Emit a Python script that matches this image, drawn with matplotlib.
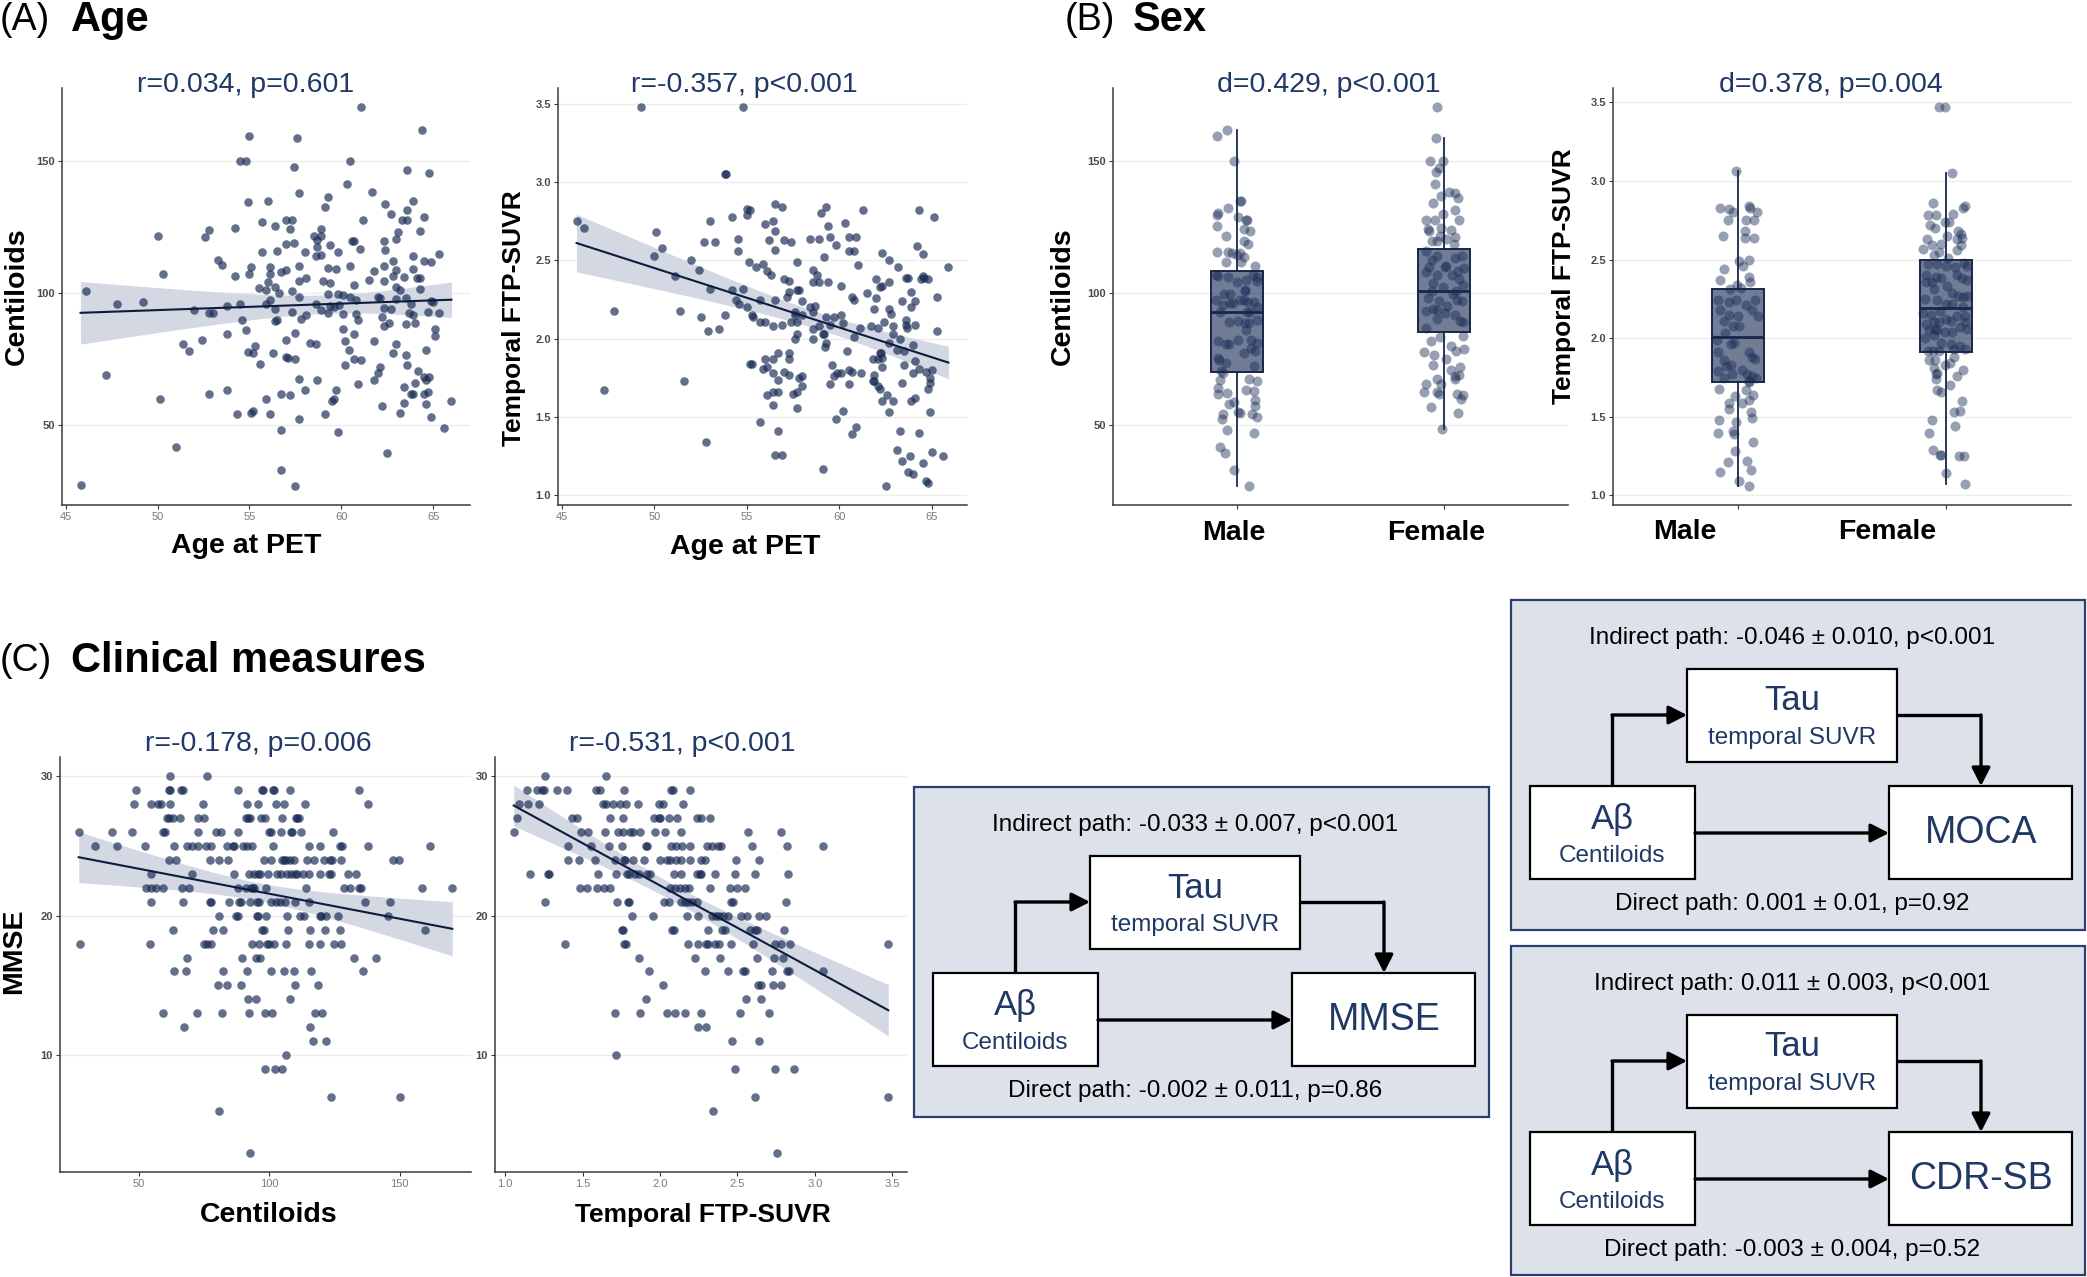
import numpy as np
import matplotlib.pyplot as plt
import matplotlib.ticker as tck
from matplotlib.colors import to_rgba
from matplotlib.patches import Rectangle

# ---------------- values ----------------
# (A) age at PET vs centiloids
centiloid_vs_age = [
    (61.1, 170.6), (64.4, 161.8), (55.0, 159.7), (57.6, 159.0), (54.5, 150.0), (54.8, 150.0), (60.5, 150.0),
    (57.4, 147.8), (63.6, 146.7), (64.8, 145.7), (60.3, 141.3), (57.7, 138.0), (61.7, 138.2), (54.9, 134.7),
    (56.0, 135.1), (59.3, 136.4), (63.9, 134.9), (62.4, 133.6), (59.1, 132.5), (63.6, 131.4), (62.7, 130.1),
    (64.5, 129.0), (55.7, 126.8), (57.0, 127.7), (57.3, 127.7), (61.2, 127.9), (63.3, 127.8), (63.6, 127.8),
    (52.8, 123.9), (54.2, 124.7), (56.4, 125.3), (57.2, 124.3), (58.9, 124.4), (63.1, 123.2), (64.3, 123.6),
    (50.0, 121.7), (52.6, 121.4), (58.5, 121.6), (58.9, 121.6), (58.7, 120.1), (60.6, 119.6), (60.7, 119.6),
    (62.3, 119.9), (63.0, 120.4), (57.4, 119.0), (57.0, 118.6), (58.7, 117.4), (59.4, 118.2), (61.0, 116.9),
    (62.4, 116.2), (55.7, 115.6), (56.5, 115.8), (58.0, 115.5), (59.8, 115.6), (65.3, 114.9), (58.6, 114.0),
    (58.9, 114.3), (63.9, 113.9), (64.5, 112.0), (64.9, 111.8), (62.8, 112.1), (53.3, 112.6), (53.5, 110.6),
    (55.1, 109.9), (56.1, 110.0), (57.7, 110.1), (59.3, 109.4), (59.7, 109.0), (60.5, 110.1), (62.3, 110.3),
    (63.9, 109.3), (61.8, 108.5), (63.0, 108.6), (50.3, 107.1), (54.2, 106.5), (55.0, 107.1), (56.1, 107.2),
    (56.7, 107.9), (57.0, 108.6), (62.8, 106.5), (63.4, 106.1), (64.1, 105.8), (64.3, 105.8), (58.1, 105.7),
    (59.0, 104.7), (61.5, 104.9), (62.3, 104.7), (57.7, 104.6), (56.0, 104.2), (59.4, 103.8), (60.7, 103.1),
    (55.5, 101.8), (55.9, 101.0), (56.4, 102.4), (63.0, 102.2), (63.2, 101.0), (64.3, 101.5), (46.1, 100.8),
    (57.3, 100.7), (59.3, 99.6), (59.8, 99.6), (60.1, 99.2), (62.0, 98.5), (62.1, 98.3), (63.5, 98.3),
    (60.5, 98.6), (56.6, 99.9), (56.1, 97.5), (57.7, 98.6), (64.9, 97.0), (65.0, 96.5), (60.8, 97.4),
    (63.0, 97.6), (63.8, 96.0), (47.8, 96.0), (49.2, 96.5), (54.5, 96.0), (53.8, 95.0), (55.9, 96.0),
    (58.6, 96.0), (59.4, 95.0), (59.6, 94.8), (59.9, 95.3), (56.4, 94.0), (62.3, 94.2), (62.7, 93.9),
    (52.0, 93.5), (52.8, 92.4), (53.0, 92.4), (58.9, 93.6), (57.3, 93.0), (59.3, 92.6), (60.1, 92.0),
    (60.8, 92.2), (63.7, 92.5), (63.9, 91.7), (64.7, 93.0), (65.3, 92.5), (62.2, 91.0), (57.8, 90.1),
    (58.1, 91.8), (54.6, 89.7), (56.4, 89.3), (56.5, 89.6), (60.9, 89.6), (64.0, 88.6), (63.5, 88.1),
    (62.6, 88.5), (62.3, 87.6), (65.1, 86.5), (54.8, 86.0), (53.8, 84.4), (57.5, 84.7), (60.1, 86.4),
    (60.7, 84.3), (65.1, 83.8), (52.4, 82.1), (51.4, 80.7), (51.7, 78.2), (57.0, 82.2), (58.3, 80.9),
    (58.6, 80.8), (60.2, 81.8), (61.8, 81.7), (55.3, 80.0), (55.2, 77.4), (54.9, 77.6), (63.0, 80.6),
    (60.4, 78.3), (64.6, 78.5), (56.3, 77.2), (62.8, 77.4), (63.5, 76.5), (55.6, 73.2), (57.5, 74.9),
    (57.0, 75.7), (57.1, 75.5), (60.7, 75.1), (61.1, 74.7), (60.2, 72.6), (63.6, 72.6), (62.1, 71.9),
    (62.0, 69.7), (64.2, 70.6), (47.2, 68.9), (64.5, 68.0), (64.8, 68.0), (64.6, 67.2), (57.7, 67.5),
    (58.7, 67.1), (61.8, 66.9), (64.0, 66.0), (60.9, 65.6), (58.0, 63.3), (53.8, 63.2), (59.7, 63.1),
    (63.4, 64.2), (64.7, 62.5), (52.8, 61.7), (56.7, 61.7), (57.2, 61.3), (63.8, 61.7), (63.9, 61.6),
    (64.5, 61.7), (50.1, 60.0), (55.9, 59.7), (59.5, 59.0), (59.6, 59.7), (66.0, 59.0), (63.4, 58.3),
    (64.6, 57.8), (62.2, 57.0), (54.3, 54.3), (55.1, 54.6), (55.2, 55.2), (56.1, 54.3), (59.1, 54.3),
    (63.2, 54.6), (64.9, 53.1), (57.7, 52.4), (65.6, 48.8), (56.7, 48.2), (59.8, 47.2), (51.0, 41.7),
    (62.5, 39.4), (56.7, 32.9), (45.8, 27.2), (57.5, 26.8),
]

# (A) age at PET vs temporal FTP-SUVR
tau_vs_age = [
    (49.3, 3.48), (54.8, 3.48), (53.8, 3.05), (53.85, 3.05), (56.5, 2.86), (56.9, 2.84), (59.3, 2.84),
    (61.3, 2.82), (64.3, 2.82), (55.0, 2.83), (55.2, 2.82), (55.0, 2.79), (59.0, 2.80), (54.2, 2.78),
    (65.1, 2.78), (45.8, 2.75), (53.0, 2.75), (56.4, 2.75), (56.0, 2.73), (60.3, 2.74), (59.4, 2.72),
    (46.2, 2.71), (56.5, 2.69), (50.1, 2.68), (60.5, 2.65), (60.9, 2.65), (59.5, 2.65), (57.0, 2.63),
    (57.4, 2.62), (58.4, 2.64), (58.9, 2.64), (54.5, 2.64), (52.7, 2.62), (53.3, 2.62), (56.2, 2.63),
    (59.8, 2.60), (64.2, 2.59), (50.4, 2.58), (56.5, 2.57), (54.5, 2.56), (60.5, 2.56), (60.8, 2.56),
    (62.3, 2.55), (64.5, 2.54), (50.0, 2.53), (59.2, 2.52), (52.0, 2.50), (55.1, 2.49), (57.7, 2.49),
    (62.7, 2.50), (55.9, 2.48), (61.0, 2.47), (55.5, 2.46), (63.2, 2.46), (65.9, 2.46), (52.4, 2.44),
    (58.6, 2.44), (56.1, 2.43), (56.3, 2.41), (58.8, 2.41), (64.5, 2.40), (64.6, 2.39), (64.8, 2.38),
    (64.4, 2.38), (51.1, 2.40), (57.0, 2.38), (57.3, 2.37), (62.0, 2.38), (63.6, 2.39), (63.7, 2.39),
    (58.6, 2.36), (58.9, 2.36), (59.4, 2.36), (60.1, 2.34), (62.2, 2.33), (62.3, 2.34), (62.7, 2.36),
    (53.0, 2.32), (54.8, 2.32), (57.7, 2.31), (57.8, 2.31), (57.3, 2.30), (54.2, 2.31), (63.9, 2.30),
    (61.5, 2.29), (65.3, 2.27), (60.7, 2.27), (60.8, 2.25), (63.4, 2.24), (64.1, 2.24), (62.0, 2.26),
    (54.4, 2.25), (56.5, 2.25), (55.7, 2.25), (57.2, 2.27), (58.0, 2.24), (54.6, 2.22), (55.0, 2.20),
    (63.9, 2.20), (58.7, 2.21), (58.4, 2.20), (61.9, 2.19), (62.7, 2.19), (47.8, 2.18), (51.4, 2.18),
    (57.6, 2.17), (57.6, 2.15), (58.6, 2.17), (62.8, 2.16), (53.8, 2.15), (55.3, 2.15), (55.35, 2.14),
    (58.0, 2.15), (60.1, 2.15), (52.5, 2.14), (59.3, 2.14), (59.7, 2.14), (55.7, 2.11), (56.0, 2.11),
    (63.6, 2.12), (63.6, 2.09), (63.65, 2.07), (57.4, 2.11), (57.7, 2.11), (56.9, 2.09), (56.4, 2.08),
    (60.2, 2.10), (59.5, 2.09), (62.4, 2.11), (64.1, 2.09), (58.9, 2.08), (61.1, 2.07), (61.7, 2.08),
    (62.1, 2.07), (62.9, 2.08), (52.9, 2.05), (53.5, 2.06), (58.6, 2.06), (65.3, 2.05), (59.1, 2.03),
    (59.2, 2.03), (62.9, 2.03), (57.7, 2.03), (57.6, 2.00), (58.6, 2.00), (60.8, 2.01), (63.3, 2.00),
    (62.7, 1.97), (59.3, 1.97), (59.25, 1.95), (64.0, 1.96), (63.1, 1.93), (63.5, 1.92), (62.2, 1.91),
    (62.25, 1.91), (60.4, 1.92), (56.7, 1.91), (57.3, 1.91), (57.3, 1.87), (61.8, 1.87), (62.1, 1.87),
    (62.3, 1.88), (56.4, 1.87), (56.0, 1.87), (64.1, 1.86), (55.2, 1.84), (55.3, 1.84), (59.6, 1.83),
    (63.5, 1.83), (55.9, 1.81), (56.1, 1.82), (62.3, 1.82), (64.3, 1.81), (64.7, 1.79), (65.0, 1.80),
    (61.2, 1.78), (60.7, 1.79), (60.5, 1.80), (59.9, 1.78), (60.1, 1.78), (57.0, 1.79), (56.4, 1.78),
    (64.0, 1.78), (57.3, 1.77), (58.0, 1.76), (61.9, 1.77), (64.9, 1.75), (57.8, 1.75), (59.7, 1.76),
    (56.7, 1.74), (61.8, 1.73), (61.9, 1.73), (63.4, 1.72), (64.9, 1.72), (59.5, 1.71), (60.5, 1.71),
    (51.6, 1.73), (58.0, 1.70), (62.1, 1.70), (64.8, 1.68), (47.3, 1.67), (56.4, 1.66), (56.7, 1.66),
    (57.7, 1.66), (57.5, 1.65), (62.2, 1.68), (62.6, 1.64), (56.1, 1.64), (64.1, 1.62), (63.9, 1.60),
    (62.3, 1.60), (62.9, 1.60), (56.4, 1.58), (57.7, 1.56), (60.2, 1.54), (62.7, 1.53), (64.9, 1.53),
    (59.8, 1.49), (55.7, 1.47), (60.9, 1.44), (63.3, 1.41), (64.3, 1.40), (56.7, 1.41), (60.7, 1.39),
    (52.8, 1.34), (63.1, 1.29), (65.0, 1.28), (56.5, 1.26), (56.9, 1.26), (63.8, 1.25), (65.6, 1.25),
    (63.4, 1.22), (64.5, 1.21), (59.1, 1.17), (63.7, 1.15), (64.0, 1.14), (64.7, 1.09), (64.8, 1.08),
    (62.5, 1.06),
]

# (B) sex: (horizontal jitter, value) pairs
cl_male = [
    (-0.095, 159.7), (-0.047, 161.8), (-0.015, 150.0), (0.016, 135.0), (0.02, 135.0), (-0.042, 132.4),
    (-0.092, 130.6), (-0.095, 129.6), (0.006, 129.0), (0.045, 127.9), (0.049, 127.9), (-0.098, 125.4),
    (0.034, 124.3), (0.061, 123.8), (-0.056, 121.8), (0.035, 120.0), (0.053, 118.5), (-0.098, 115.8),
    (-0.044, 115.8), (-0.024, 115.2), (0.016, 115.2), (0.0, 114.4), (0.031, 113.6), (-0.056, 111.9),
    (0.021, 111.7), (0.085, 110.3), (-0.1, 106.9), (-0.092, 106.5), (-0.044, 106.3), (0.077, 106.8),
    (0.098, 106.0), (0.097, 104.7), (0.044, 105.1), (0.0, 104.2), (0.037, 101.0), (0.04, 101.4),
    (-0.063, 99.9), (-0.032, 99.9), (-0.1, 97.4), (-0.021, 96.4), (-0.032, 96.4), (0.016, 97.4),
    (0.032, 97.4), (-0.068, 95.7), (0.053, 96.8), (0.081, 96.8), (0.095, 94.7), (-0.081, 92.9),
    (0.047, 92.9), (0.063, 92.9), (0.098, 89.9), (0.002, 89.6), (-0.04, 89.2), (0.040, 88.6),
    (0.056, 88.6), (0.042, 86.2), (0.005, 82.2), (-0.092, 82.0), (-0.052, 80.7), (-0.040, 80.7),
    (0.069, 82.2), (0.094, 81.1), (0.065, 79.2), (0.089, 78.1), (-0.094, 75.4), (-0.089, 74.6),
    (0.035, 77.4), (-0.052, 73.5), (0.082, 72.6), (-0.068, 70.0), (-0.076, 70.4), (-0.081, 67.2),
    (0.056, 67.5), (0.094, 66.8), (-0.094, 64.2), (-0.047, 62.4), (-0.094, 61.8), (0.044, 63.3),
    (0.084, 63.1), (-0.015, 59.0), (-0.037, 58.1), (0.089, 59.7), (0.085, 57.5), (0.005, 55.1),
    (0.013, 54.7), (-0.068, 54.3), (0.071, 54.3), (0.094, 53.2), (-0.074, 52.4), (-0.047, 48.2),
    (0.081, 47.2), (-0.081, 41.8), (-0.058, 39.6), (-0.015, 32.9), (0.058, 27.0),
]
cl_female = [
    (-0.031, 170.6), (-0.037, 159.0), (-0.066, 150.1), (-0.003, 150.1), (-0.024, 147.6), (-0.037, 145.8),
    (-0.044, 141.3), (0.023, 138.2), (0.052, 137.9), (0.069, 136.3), (-0.013, 136.7), (-0.052, 134.4),
    (0.056, 131.4), (-0.003, 130.0), (-0.089, 127.6), (-0.045, 127.8), (0.074, 127.8), (-0.076, 124.4),
    (-0.073, 123.7), (-0.013, 124.9), (0.034, 124.0), (-0.021, 121.8), (0.056, 121.4), (-0.060, 120.0),
    (-0.032, 119.7), (0.010, 120.4), (-0.085, 116.2), (0.048, 118.8), (-0.032, 114.2), (0.089, 114.2),
    (0.056, 113.2), (-0.056, 112.8), (-0.073, 110.0), (0.011, 110.3), (0.005, 110.0), (0.097, 109.6),
    (0.068, 108.6), (-0.087, 107.9), (-0.032, 106.9), (0.040, 106.8), (-0.053, 104.0), (0.073, 105.4),
    (0.090, 103.2), (-0.006, 102.4), (-0.056, 101.0), (0.045, 99.9), (0.058, 101.0), (-0.077, 98.2),
    (-0.024, 97.1), (0.063, 97.4), (0.089, 97.0), (0.016, 95.1), (-0.055, 94.2), (-0.031, 93.8),
    (-0.089, 93.3), (0.005, 92.5), (0.052, 91.9), (-0.032, 90.3), (0.077, 89.6), (0.090, 89.0),
    (-0.089, 86.7), (-0.018, 83.6), (0.090, 83.9), (-0.063, 82.0), (0.032, 80.0), (-0.097, 77.9),
    (-0.047, 76.7), (0.060, 78.3), (0.097, 78.9), (0.011, 75.3), (-0.053, 72.8), (0.077, 72.1),
    (0.034, 70.8), (0.073, 69.0), (0.053, 68.6), (0.056, 67.6), (-0.034, 67.6), (-0.089, 65.8),
    (-0.013, 65.6), (-0.097, 62.6), (-0.026, 61.8), (-0.031, 62.6), (0.061, 61.7), (0.092, 61.3),
    (0.082, 59.9), (-0.063, 56.9), (0.069, 54.6), (-0.008, 48.7),
]
tau_male = [
    (-0.008, 3.06), (-0.084, 2.83), (-0.043, 2.82), (-0.023, 2.80), (0.054, 2.84), (0.057, 2.83),
    (0.092, 2.80), (-0.048, 2.75), (0.037, 2.75), (0.079, 2.75), (0.033, 2.68), (-0.072, 2.65),
    (0.032, 2.64), (0.079, 2.64), (0.005, 2.49), (0.025, 2.46), (0.055, 2.50), (-0.069, 2.44),
    (0.055, 2.39), (-0.085, 2.37), (0.057, 2.36), (-0.002, 2.34), (0.013, 2.32), (-0.037, 2.31),
    (-0.095, 2.24), (-0.045, 2.23), (-0.007, 2.24), (0.082, 2.24), (0.038, 2.21), (-0.084, 2.18),
    (0.069, 2.18), (0.095, 2.14), (-0.045, 2.15), (0.0, 2.14), (-0.067, 2.11), (-0.025, 2.08),
    (0.007, 2.08), (-0.064, 2.03), (-0.102, 1.99), (-0.032, 1.96), (-0.017, 1.97), (0.055, 1.91),
    (-0.095, 1.91), (0.080, 1.87), (0.069, 1.88), (-0.065, 1.86), (-0.055, 1.82), (-0.032, 1.83),
    (0.018, 1.80), (-0.095, 1.79), (-0.065, 1.75), (-0.028, 1.77), (0.045, 1.77), (0.069, 1.76),
    (0.089, 1.75), (0.055, 1.72), (0.052, 1.73), (-0.092, 1.68), (0.038, 1.67), (0.072, 1.64),
    (-0.015, 1.63), (-0.042, 1.59), (0.052, 1.61), (0.018, 1.59), (-0.043, 1.55), (0.064, 1.53),
    (-0.092, 1.48), (0.067, 1.49), (-0.007, 1.47), (-0.023, 1.41), (-0.017, 1.39), (-0.094, 1.40),
    (0.072, 1.34), (-0.015, 1.28), (-0.048, 1.21), (0.043, 1.22), (0.065, 1.16), (-0.087, 1.15),
    (0.005, 1.09), (0.054, 1.06),
]
tau_female = [
    (-0.032, 3.47), (-0.003, 3.47), (0.027, 3.05), (-0.062, 2.86), (0.080, 2.83), (0.089, 2.84),
    (-0.089, 2.78), (-0.047, 2.78), (0.033, 2.79), (-0.005, 2.74), (0.012, 2.74), (-0.075, 2.72),
    (-0.054, 2.70), (0.059, 2.68), (0.070, 2.66), (0.003, 2.65), (-0.092, 2.63), (0.050, 2.63),
    (0.075, 2.64), (-0.025, 2.60), (-0.067, 2.59), (-0.109, 2.57), (0.070, 2.59), (0.052, 2.56),
    (-0.033, 2.55), (-0.059, 2.53), (0.008, 2.51), (0.087, 2.48), (-0.087, 2.47), (-0.045, 2.47),
    (0.0, 2.46), (0.045, 2.45), (0.100, 2.46), (-0.097, 2.40), (-0.050, 2.39), (-0.025, 2.38),
    (0.050, 2.40), (0.075, 2.38), (0.100, 2.37), (-0.095, 2.36), (-0.070, 2.36), (0.005, 2.33),
    (-0.059, 2.31), (0.030, 2.29), (0.059, 2.27), (0.079, 2.26), (0.102, 2.27), (-0.100, 2.25),
    (-0.042, 2.24), (0.0, 2.22), (0.030, 2.22), (0.079, 2.20), (-0.028, 2.17), (-0.109, 2.16),
    (-0.072, 2.15), (0.054, 2.14), (0.092, 2.14), (0.0, 2.12), (0.025, 2.11), (-0.059, 2.10),
    (-0.033, 2.10), (-0.097, 2.09), (0.089, 2.10), (0.067, 2.07), (-0.054, 2.06), (-0.042, 2.05),
    (-0.080, 2.05), (-0.003, 2.04), (0.030, 2.04), (0.100, 2.06), (-0.100, 2.00), (-0.059, 2.02),
    (-0.025, 1.97), (0.025, 1.96), (0.067, 1.95), (-0.087, 1.92), (-0.062, 1.92), (-0.033, 1.92),
    (0.092, 1.93), (0.037, 1.93), (-0.084, 1.86), (-0.055, 1.86), (0.038, 1.88), (0.018, 1.84),
    (-0.005, 1.83), (-0.059, 1.81), (-0.045, 1.78), (-0.050, 1.77), (0.082, 1.80), (0.050, 1.76),
    (-0.047, 1.74), (0.020, 1.70), (-0.042, 1.67), (-0.025, 1.66), (0.075, 1.60), (0.037, 1.53),
    (0.067, 1.54), (-0.067, 1.48), (0.045, 1.44), (-0.080, 1.40), (-0.062, 1.29), (-0.030, 1.26),
    (-0.025, 1.26), (0.064, 1.25), (0.085, 1.25), (0.0, 1.14), (0.092, 1.07),
]
# box summaries: whisker low, q1, median, q3, whisker high
cl_box_male = [27.0, 70.1, 92.8, 108.5, 161.8]
cl_box_female = [48.7, 85.4, 100.8, 116.8, 158.9]
tau_box_male = [1.06, 1.72, 2.01, 2.31, 3.06]
tau_box_female = [1.07, 1.91, 2.19, 2.50, 3.05]
sexes = ["Male", "Female"]

# (C) clinical measures
mmse_vs_cl = [
    (61.9, 30), (76.1, 30),
    (48.9, 29), (61.6, 29), (62.0, 29), (66.1, 29), (66.8, 29), (88.1, 29), (97.2, 29), (97.6, 29),
    (101.3, 29), (102.0, 29), (108.0, 29), (134.3, 29),
    (48.2, 28), (54.5, 28), (57.5, 28), (58.4, 28), (61.9, 28), (74.7, 28), (91.6, 28), (95.7, 28),
    (102.7, 28), (105.6, 28), (113.6, 28), (137.9, 28),
    (60.8, 27), (61.4, 27), (62.9, 27), (65.7, 27), (72.8, 27), (75.1, 27), (91.2, 27), (91.7, 27),
    (92.7, 27), (96.9, 27), (98.3, 27), (105.0, 27), (110.1, 27), (110.6, 27), (111.5, 27),
    (26.9, 26), (39.7, 26), (47.3, 26), (59.3, 26), (59.9, 26), (72.6, 26), (79.6, 26), (81.5, 26),
    (88.0, 26), (100.0, 26), (100.6, 26), (104.6, 26), (108.2, 26), (108.8, 26), (112.0, 26), (124.6, 26),
    (33.0, 25), (41.7, 25), (52.3, 25), (63.3, 25), (68.5, 25), (70.4, 25), (72.6, 25), (75.9, 25),
    (77.7, 25), (83.9, 25), (86.0, 25), (86.4, 25), (89.9, 25), (91.5, 25), (93.4, 25), (101.3, 25),
    (115.3, 25), (119.6, 25), (127.3, 25), (127.7, 25), (137.9, 25), (161.6, 25),
    (61.4, 24), (64.3, 24), (77.2, 24), (80.9, 24), (84.3, 24), (97.8, 24), (100.5, 24), (104.7, 24),
    (105.7, 24), (106.5, 24), (107.8, 24), (109.4, 24), (114.5, 24), (117.1, 24), (120.9, 24), (123.1, 24),
    (124.0, 24), (127.6, 24), (147.3, 24), (149.7, 24),
    (54.6, 23), (70.4, 23), (86.4, 23), (92.2, 23), (94.0, 23), (95.7, 23), (96.6, 23), (99.4, 23),
    (102.8, 23), (104.5, 23), (106.8, 23), (108.5, 23), (109.7, 23), (110.5, 23), (112.8, 23), (115.1, 23),
    (119.5, 23), (122.9, 23), (123.7, 23), (130.0, 23), (133.4, 23),
    (52.8, 22), (54.8, 22), (56.6, 22), (59.2, 22), (66.6, 22), (69.4, 22), (88.1, 22), (91.2, 22),
    (93.0, 22), (93.9, 22), (94.3, 22), (98.6, 22), (114.2, 22), (128.7, 22), (131.1, 22), (134.6, 22),
    (135.1, 22), (158.7, 22), (170.2, 22),
    (54.7, 21), (67.1, 21), (77.2, 21), (77.8, 21), (84.6, 21), (88.5, 21), (89.2, 21), (92.5, 21),
    (95.4, 21), (96.0, 21), (100.5, 21), (102.4, 21), (104.0, 21), (106.0, 21), (110.0, 21), (115.2, 21),
    (136.6, 21), (146.3, 21),
    (80.6, 20), (87.2, 20), (88.1, 20), (95.3, 20), (95.7, 20), (98.7, 20), (106.9, 20), (111.6, 20),
    (113.5, 20), (119.3, 20), (119.8, 20), (121.8, 20), (126.5, 20), (145.4, 20),
    (63.1, 19), (78.4, 19), (82.1, 19), (97.2, 19), (98.1, 19), (107.1, 19), (115.7, 19), (121.4, 19),
    (127.2, 19), (159.6, 19),
    (27.4, 18), (54.3, 18), (75.0, 18), (76.1, 18), (77.7, 18), (93.5, 18), (96.0, 18), (99.1, 18),
    (99.9, 18), (101.9, 18), (106.4, 18), (115.4, 18), (119.3, 18), (125.0, 18), (127.4, 18),
    (68.4, 17), (89.5, 17), (94.8, 17), (96.3, 17), (132.4, 17), (140.9, 17),
    (63.3, 16), (67.9, 16), (82.1, 16), (91.6, 16), (100.8, 16), (105.7, 16), (109.4, 16), (116.1, 16),
    (136.1, 16),
    (80.4, 15), (83.7, 15), (89.3, 15), (109.8, 15), (118.5, 15),
    (92.0, 14), (95.0, 14), (108.0, 14),
    (59.2, 13), (72.1, 13), (81.8, 13), (92.3, 13), (98.3, 13), (100.9, 13), (117.5, 13), (120.2, 13),
    (67.3, 12), (115.7, 12), (116.7, 11), (121.8, 11), (106.3, 10),
    (98.3, 9), (102.2, 9), (104.7, 9), (123.7, 7), (150.0, 7), (80.7, 6), (92.5, 3),
]
mmse_vs_tau = [
    (1.256, 30), (1.652, 30),
    (1.140, 29), (1.207, 29), (1.241, 29), (1.252, 29), (1.338, 29), (1.402, 29), (1.590, 29), (1.613, 29),
    (1.768, 29), (2.071, 29), (2.086, 29), (2.192, 29),
    (1.088, 28), (1.148, 28), (1.217, 28), (1.635, 28), (1.650, 28), (1.697, 28), (1.740, 28), (1.779, 28),
    (1.858, 28), (1.996, 28), (2.022, 28), (2.149, 28),
    (1.075, 27), (1.432, 27), (1.465, 27), (1.680, 27), (1.762, 27), (1.962, 27), (1.996, 27), (2.000, 27),
    (2.059, 27), (2.108, 27), (2.237, 27), (2.265, 27), (2.321, 27),
    (1.056, 26), (1.488, 26), (1.538, 26), (1.643, 26), (1.729, 26), (1.760, 26), (1.809, 26), (1.824, 26),
    (1.871, 26), (1.966, 26), (2.031, 26), (2.134, 26), (2.566, 26), (2.784, 26),
    (1.404, 25), (1.555, 25), (1.671, 25), (1.753, 25), (1.912, 25), (1.919, 25), (2.071, 25), (2.104, 25),
    (2.145, 25), (2.194, 25), (2.306, 25), (2.338, 25), (2.375, 25), (2.396, 25), (2.592, 25), (2.822, 25),
    (3.050, 25),
    (1.409, 24), (1.480, 24), (1.581, 24), (1.712, 24), (1.768, 24), (1.775, 24), (1.824, 24), (1.897, 24),
    (2.003, 24), (2.048, 24), (2.065, 24), (2.106, 24), (2.138, 24), (2.192, 24), (2.265, 24), (2.291, 24),
    (2.491, 24), (2.637, 24),
    (1.164, 23), (1.278, 23), (1.284, 23), (1.600, 23), (1.719, 23), (1.785, 23), (1.800, 23), (1.837, 23),
    (1.867, 23), (1.914, 23), (1.936, 23), (2.093, 23), (2.136, 23), (2.237, 23), (2.259, 23), (2.267, 23),
    (2.353, 23), (2.485, 23), (2.616, 23), (2.829, 23),
    (1.486, 22), (1.531, 22), (1.594, 22), (1.641, 22), (1.678, 22), (2.067, 22), (2.099, 22), (2.130, 22),
    (2.164, 22), (2.188, 22), (2.321, 22), (2.454, 22), (2.500, 22), (2.551, 22),
    (1.256, 21), (1.725, 21), (1.792, 21), (1.802, 21), (2.026, 21), (2.061, 21), (2.134, 21), (2.162, 21),
    (2.183, 21), (2.205, 21), (2.239, 21), (2.459, 21), (2.474, 21), (2.816, 21),
    (1.818, 20), (1.953, 20), (2.177, 20), (2.248, 20), (2.338, 20), (2.362, 20), (2.379, 20), (2.409, 20),
    (2.441, 20), (2.521, 20), (2.564, 20), (2.642, 20), (2.682, 20),
    (1.755, 19), (1.762, 19), (2.080, 19), (2.089, 19), (2.308, 19), (2.401, 19), (2.422, 19), (2.579, 19),
    (2.616, 19), (2.624, 19), (2.799, 19),
    (1.387, 18), (1.768, 18), (1.779, 18), (2.181, 18), (2.246, 18), (2.295, 18), (2.308, 18), (2.353, 18),
    (2.381, 18), (2.461, 18), (2.603, 18), (2.741, 18), (2.779, 18), (2.837, 18), (3.474, 18),
    (1.867, 17), (2.228, 17), (2.388, 17), (2.629, 17), (2.736, 17), (2.797, 17),
    (1.927, 16), (2.293, 16), (2.441, 16), (2.534, 16), (2.547, 16), (2.725, 16), (2.818, 16), (2.831, 16),
    (3.055, 16),
    (2.022, 15), (2.635, 15), (2.650, 15), (2.730, 15), (2.784, 15),
    (1.908, 14), (2.553, 14), (2.650, 14),
    (1.708, 13), (1.871, 13), (2.043, 13), (2.097, 13), (2.162, 13), (2.265, 13), (2.515, 13), (2.704, 13),
    (2.248, 12), (2.299, 12), (2.463, 11), (2.637, 11), (1.714, 10),
    (2.487, 9), (2.743, 9), (2.863, 9), (2.611, 7), (3.474, 7), (2.345, 6), (2.753, 3),
]

panel_stats = ["r=0.034, p=0.601", "r=-0.357, p<0.001", "d=0.429, p<0.001", "d=0.378, p=0.004",
               "r=-0.178, p=0.006", "r=-0.531, p<0.001"]
med_outcomes = ["MMSE", "MOCA", "CDR-SB"]
med_indirect = ["Indirect path: -0.033 \u00b1 0.007, p<0.001", "Indirect path: -0.046 \u00b1 0.010, p<0.001",
                "Indirect path: 0.011 \u00b1 0.003, p<0.001"]
med_direct = ["Direct path: -0.002 \u00b1 0.011, p=0.86", "Direct path: 0.001 \u00b1 0.01, p=0.92",
              "Direct path: -0.003 \u00b1 0.004, p=0.52"]

# ---------------- style ----------------
plt.rcParams['font.family'] = ['Liberation Sans', 'DejaVu Sans']
NAVY = '#1f3864'
DOT = '#1a2c55'
LINE = '#0d1b3e'
BAND = '#d3d8e3'
EDGE = '#17264b'

W, H = 2087, 1277
fig = plt.figure(figsize=(W / 100, H / 100), dpi=100)

ov = fig.add_axes([0, 0, 1, 1], zorder=5)
ov.set_xlim(0, W)
ov.set_ylim(H, 0)
ov.axis('off')


def txt(x, y, s, size, **kw):
    kw.setdefault('ha', 'center')
    kw.setdefault('va', 'center')
    ov.text(x, y, s, fontsize=size, **kw)


def px_axes(l, t, r, b):
    return fig.add_axes([l / W, 1 - b / H, (r - l) / W, (b - t) / H])


def padded(v):
    lo, hi = np.min(v), np.max(v)
    d = 0.05 * (hi - lo)
    return lo - d, hi + d


def style(ax, xticks, yticks, yfmt=None, xfmt=None):
    for side in ('top', 'right'):
        ax.spines[side].set_visible(False)
    for side in ('left', 'bottom'):
        ax.spines[side].set_color('#3a3a3a')
        ax.spines[side].set_linewidth(1.1)
    ax.set_xticks(xticks)
    ax.set_yticks(yticks)
    if yfmt:
        ax.yaxis.set_major_formatter(tck.FormatStrFormatter(yfmt))
    if xfmt:
        ax.xaxis.set_major_formatter(tck.FormatStrFormatter(xfmt))
    ax.tick_params(length=3, width=0.8, color='#3a3a3a', labelsize=8, pad=2)
    ax.tick_params(axis='y', labelcolor='#4a4a4a')
    ax.tick_params(axis='x', labelcolor='#7a7a7a')
    for lbl in ax.get_yticklabels():
        lbl.set_fontweight('bold')
    ax.yaxis.grid(True, color='#ededed', lw=1)
    ax.set_axisbelow(True)


def scatter_panel(ax, pts, xticks, yticks, yfmt=None, xfmt=None):
    x, y = np.array(pts, dtype=float).T
    n = len(x)
    slope, icpt = np.polyfit(x, y, 1)
    xs = np.linspace(x.min(), x.max(), 150)
    fit = icpt + slope * xs
    s = np.sqrt(np.sum((y - (icpt + slope * x)) ** 2) / (n - 2))
    se = s * np.sqrt(1 / n + (xs - x.mean()) ** 2 / np.sum((x - x.mean()) ** 2))
    ax.fill_between(xs, fit - 1.97 * se, fit + 1.97 * se, color=BAND, lw=0, zorder=1)
    ax.scatter(x, y, s=38, color=DOT, alpha=0.68, lw=0, zorder=2)
    ax.plot(xs, fit, color=LINE, lw=1.5, zorder=3)
    ax.set_xlim(padded(x))
    ax.set_ylim(padded(y))
    style(ax, xticks, yticks, yfmt, xfmt)


def box_panel(ax, groups, boxes, yticks, yfmt=None):
    vals = []
    for i, pts in enumerate(groups):
        j, v = np.array(pts, dtype=float).T
        ax.scatter(i + j, v, s=52, color=DOT, alpha=0.45, lw=0, zorder=2)
        vals.extend(v)
    stats = [dict(whislo=b[0], q1=b[1], med=b[2], q3=b[3], whishi=b[4], fliers=[]) for b in boxes]
    ax.bxp(stats, positions=[0, 1], widths=0.25, patch_artist=True, showcaps=False,
           boxprops=dict(facecolor=to_rgba(DOT, 0.62), edgecolor=EDGE, linewidth=1.4),
           medianprops=dict(color=EDGE, linewidth=2.0),
           whiskerprops=dict(color=EDGE, linewidth=1.3), zorder=3)
    ax.set_xlim(-0.6, 1.6)
    ax.set_ylim(padded(vals))
    style(ax, [0, 1], yticks, yfmt)
    ax.set_xticklabels([])


# ---------------- panel A ----------------
txt(0, 20, "(A)", 27, ha='left')
txt(71, 20, "Age", 30, ha='left', fontweight='bold')
ax = px_axes(62, 88, 470, 505)
scatter_panel(ax, centiloid_vs_age, [45, 50, 55, 60, 65], [50, 100, 150])
ax = px_axes(558, 88, 967, 505)
scatter_panel(ax, tau_vs_age, [45, 50, 55, 60, 65], [1.0, 1.5, 2.0, 2.5, 3.0, 3.5], yfmt='%.1f')
txt(246, 85, panel_stats[0], 20.5, color=NAVY)
txt(744, 85, panel_stats[1], 20.5, color=NAVY)
txt(17, 296, "Centiloids", 20.5, rotation=90, fontweight='bold')
txt(514, 318, "Temporal FTP-SUVR", 19, rotation=90, fontweight='bold')
txt(246, 546, "Age at PET", 20.5, fontweight='bold')
txt(745, 547, "Age at PET", 20.5, fontweight='bold')

# ---------------- panel B ----------------
txt(1065, 20, "(B)", 27, ha='left')
txt(1133, 20, "Sex", 30, ha='left', fontweight='bold')
ax = px_axes(1113, 88, 1568, 505)
box_panel(ax, [cl_male, cl_female], [cl_box_male, cl_box_female], [50, 100, 150])
ax = px_axes(1613, 88, 2071, 505)
box_panel(ax, [tau_male, tau_female], [tau_box_male, tau_box_female],
          [1.0, 1.5, 2.0, 2.5, 3.0, 3.5], yfmt='%.1f')
txt(1329, 85, panel_stats[2], 20.5, color=NAVY)
txt(1831, 85, panel_stats[3], 20.5, color=NAVY)
txt(1063, 296, "Centiloids", 20.5, rotation=90, fontweight='bold')
txt(1564, 276, "Temporal FTP-SUVR", 19, rotation=90, fontweight='bold')
for xc, lab in zip([1234, 1436], sexes):
    txt(xc, 533, lab, 20.5, fontweight='bold')
for xc, lab in zip([1685, 1887], sexes):
    txt(xc, 532, lab, 20.5, fontweight='bold')

# ---------------- panel C ----------------
txt(0, 661, "(C)", 27, ha='left')
txt(71, 661, "Clinical measures", 30, ha='left', fontweight='bold')
ax = px_axes(60, 757, 471, 1172)
scatter_panel(ax, mmse_vs_cl, [50, 100, 150], [10, 20, 30])
ax = px_axes(495, 757, 907, 1172)
scatter_panel(ax, mmse_vs_tau, [1.0, 1.5, 2.0, 2.5, 3.0, 3.5], [10, 20, 30], xfmt='%.1f')
txt(258, 744, panel_stats[4], 20.5, color=NAVY)
txt(682, 744, panel_stats[5], 20.5, color=NAVY)
txt(14, 951, "MMSE", 20.5, rotation=90, fontweight='bold')
txt(269, 1215, "Centiloids", 20.5, fontweight='bold')
txt(703, 1215, "Temporal FTP-SUVR", 19, fontweight='bold')


# ---------------- mediation diagrams ----------------
def path_arrow(pts):
    xs, ys = zip(*pts)
    ov.plot(xs[:-1], ys[:-1], color='black', lw=2.4, solid_joinstyle='miter', solid_capstyle='butt')
    ov.annotate('', xy=pts[-1], xytext=pts[-2],
                arrowprops=dict(arrowstyle='-|>,head_length=0.55,head_width=0.28', lw=2.4,
                                color='black', shrinkA=0, shrinkB=0, mutation_scale=20))


def mediation(x0, y0, w, h, outcome, indirect, direct):
    ov.add_patch(Rectangle((x0, y0), w, h, facecolor='#dde1ea', edgecolor='#2c3e6e', lw=1.6))
    txt(x0 + 281, y0 + 38, indirect, 17.5)
    for bx, by, bw, bh in [(176, 69, 210, 93), (19, 186, 165, 93), (378, 186, 183, 93)]:
        ov.add_patch(Rectangle((x0 + bx, y0 + by), bw, bh, facecolor='white', edgecolor='black', lw=1.6))
    txt(x0 + 281, y0 + 101, "Tau", 25, color=NAVY)
    txt(x0 + 281, y0 + 138, "temporal SUVR", 17.5, color=NAVY)
    txt(x0 + 101, y0 + 219, "A\u03b2", 25, color=NAVY)
    txt(x0 + 101, y0 + 256, "Centiloids", 17.5, color=NAVY)
    txt(x0 + 470, y0 + 233, outcome, 27, color=NAVY)
    txt(x0 + 281, y0 + 304, direct, 17.5)
    path_arrow([(x0 + 101, y0 + 186), (x0 + 101, y0 + 115), (x0 + 176, y0 + 115)])
    path_arrow([(x0 + 386, y0 + 115), (x0 + 470, y0 + 115), (x0 + 470, y0 + 186)])
    path_arrow([(x0 + 184, y0 + 233), (x0 + 378, y0 + 233)])


mediation(914, 787, 575, 330, med_outcomes[0], med_indirect[0], med_direct[0])
mediation(1511, 600, 574, 330, med_outcomes[1], med_indirect[1], med_direct[1])
mediation(1511, 946, 574, 329, med_outcomes[2], med_indirect[2], med_direct[2])

fig.savefig("out.png", dpi=100)
